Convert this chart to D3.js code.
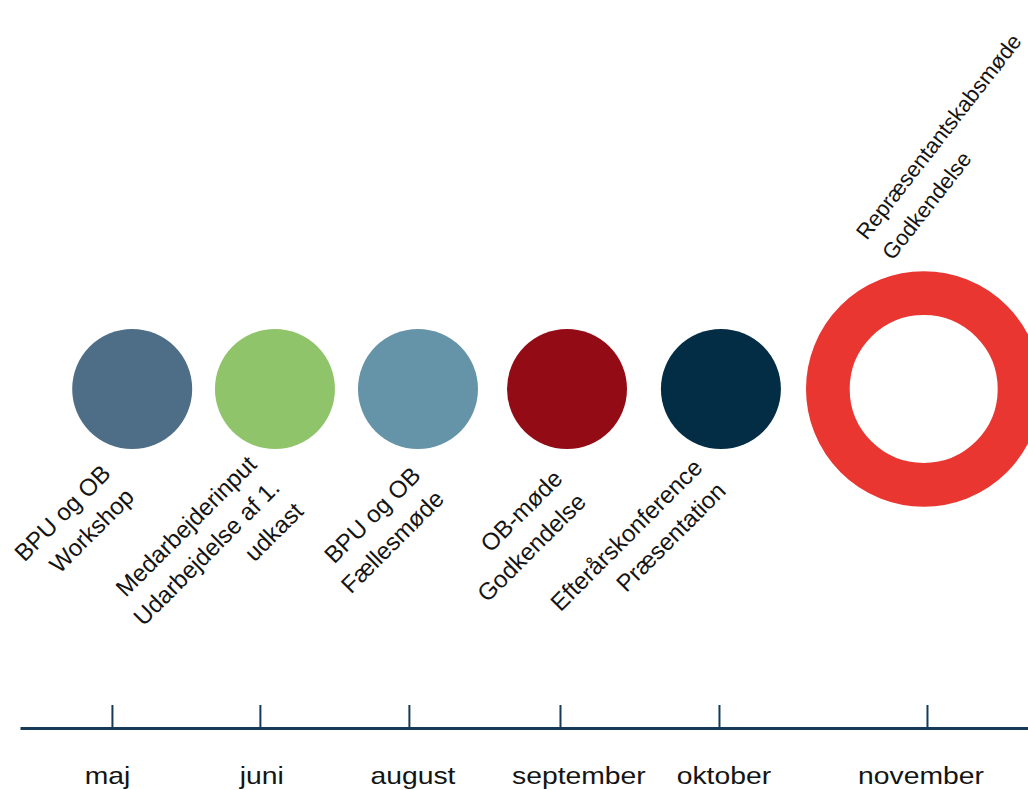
<!DOCTYPE html>
<html>
<head>
<meta charset="utf-8">
<script src="https://cdn.jsdelivr.net/npm/d3@7"></script>
<style>
  html, body { margin: 0; padding: 0; background: #ffffff; }
  svg { display: block; }
  text { font-family: "Liberation Sans", Arial, sans-serif; fill: #141414; }
</style>
</head>
<body>
<svg id="chart" width="1028" height="790"></svg>
<script>
// Timeline positions are expressed in "steps" (roughly one step per milestone).
const months = ["maj", "juni", "august", "september", "oktober", "november"];
const tickPos = [0, 0.993, 1.993, 3.007, 4.074, 5.47];
const monthLabelPos = [-0.03, 1.005, 2.02, 3.134, 4.107, 5.43];

const eventLabels = [
  ["BPU og OB", "Workshop"],
  ["Medarbejderinput", "Udarbejdelse af 1.", "udkast"],
  ["BPU og OB", "Fællesmøde"],
  ["OB-møde", "Godkendelse"],
  ["Efterårskonference", "Præsentation"],
  ["Repræsentantskabsmøde", "Godkendelse"]
];
const eventPos = [0.136, 1.094, 2.054, 3.054, 4.087, 5.448];
const eventColors = ["#4e6d87", "#8fc46b", "#6593a8", "#930c15", "#032c45", "#ea3631"];

// Layout settings
const W = 1028, H = 790;
const centerY = 389;
const dotR = 60;
const ringOuter = 117.7, ringInner = 74;
const axisY = 728;
const lineH = 33;
const fontSize = 24;
// label anchor relative to its circle centre (end of first line, or start for the label above)
const labelNudge = [[-20, 86], [-17, 77], [4, 88], [-3, 91], [-17, 80], [-57, -148]];
const labelAngle = [-45, -45, -45, -45, -45, -52];
const labelSize = [24, 24, 24, 24, 24, 22];

const svg = d3.select("#chart");

const x = d3.scaleLinear().domain([-0.617, 6.148]).range([20, 1028]);

// Axis with upward ticks
const axis = d3.axisTop(x)
  .tickValues(tickPos)
  .tickSize(23)
  .tickSizeOuter(0)
  .tickFormat("");

const gAxis = svg.append("g")
  .attr("transform", `translate(0,${axisY})`)
  .call(axis);
gAxis.select(".domain").attr("stroke", "#163a57").attr("stroke-width", 3);
gAxis.selectAll(".tick line").attr("stroke", "#163a57").attr("stroke-width", 2);

// Month labels (slightly wide lettering)
svg.append("g").selectAll("text")
  .data(months)
  .join("text")
  .attr("transform", (d, i) => `translate(${x(monthLabelPos[i])},784) scale(1.18,1)`)
  .attr("text-anchor", "middle")
  .attr("font-size", fontSize)
  .text(d => d);

// Milestone circles; the last one is drawn as a ring
const last = eventPos.length - 1;
svg.append("g").selectAll("circle")
  .data(eventPos)
  .join("circle")
  .attr("cx", d => x(d))
  .attr("cy", centerY)
  .attr("r", (d, i) => i === last ? (ringOuter + ringInner) / 2 : dotR)
  .attr("fill", (d, i) => i === last ? "none" : eventColors[i])
  .attr("stroke", (d, i) => i === last ? eventColors[i] : "none")
  .attr("stroke-width", (d, i) => i === last ? ringOuter - ringInner : 0);

// Rotated milestone labels
const labels = svg.append("g").selectAll("g")
  .data(eventLabels)
  .join("g")
  .attr("transform", (d, i) => {
    const ax = x(eventPos[i]) + labelNudge[i][0];
    const ay = centerY + labelNudge[i][1];
    return `translate(${ax},${ay}) rotate(${labelAngle[i]})`;
  });

labels.each(function (lines, i) {
  const above = i === last;
  d3.select(this).selectAll("text")
    .data(lines)
    .join("text")
    .attr("x", 0)
    .attr("y", (d, j) => j * lineH)
    .attr("text-anchor", above ? "start" : "end")
    .attr("font-size", labelSize[i])
    .text(d => d);
});
</script>
</body>
</html>
